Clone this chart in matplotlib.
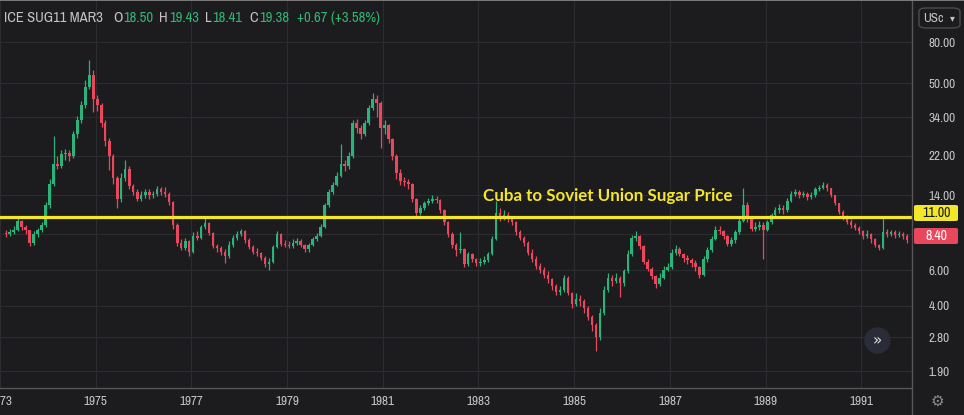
import numpy as np
import pandas as pd
import matplotlib
matplotlib.use("Agg")
import matplotlib.pyplot as plt
import matplotlib.dates as mdates
from matplotlib.patches import FancyBboxPatch
from matplotlib.lines import Line2D
from matplotlib import font_manager as fm
from datetime import datetime

# ---------------- data (monthly OHLC) ----------------
first_open = 9.1
close = [
    # 1973 (Feb-Dec)
    9.0, 9.2, 9.5, 10.5, 9.8, 9.4, 8.2, 9.0, 9.4, 10.0, 12.5,
    # 1974
    16, 20, 19.6, 22.5, 22.8, 22, 28, 33, 39, 48, 55, 42,
    # 1975
    39, 32, 26, 22, 17, 13.5, 17, 19, 15.5, 14.5, 13.5, 14,
    # 1976
    14.5, 14, 14.2, 15, 14.5, 14.2, 13, 10, 8.2, 7.7, 8.3, 7.4,
    # 1977
    8.8, 8.6, 9.8, 10.2, 9.1, 7.9, 7.7, 7.4, 7.0, 8.0, 8.6, 9.0,
    # 1978
    9.3, 8.4, 7.8, 7.4, 7.3, 6.9, 6.4, 6.6, 7.8, 9.0, 8.1, 8.0,
    # 1979
    7.9, 8.2, 8.3, 8.0, 7.6, 8.0, 8.5, 8.8, 9.8, 12.5, 14.5, 15.8,
    # 1980
    17.5, 20, 19.5, 22, 32, 30, 28, 32, 38, 42, 40, 30,
    # 1981
    31, 26.5, 22, 18, 16.5, 16.3, 16, 13.5, 11.5, 12.2, 12.8, 13.2,
    # 1982
    13.5, 13.3, 11.8, 10.3, 9.0, 8.0, 7.5, 7.6, 6.4, 7.2, 6.8, 6.5,
    # 1983
    6.6, 6.7, 7.2, 8.5, 11.5, 11.0, 11.2, 10.8, 10.4, 9.2, 8.6, 8.2,
    # 1984
    7.3, 6.8, 6.3, 6.0, 5.7, 5.4, 5.0, 4.7, 4.8, 5.5, 4.6, 4.1,
    # 1985
    4.3, 4.2, 3.9, 3.5, 3.2, 2.8, 3.7, 4.8, 5.5, 5.3, 5.5, 5.2,
    # 1986
    5.9, 7.2, 8.6, 8.8, 7.9, 6.6, 6.1, 5.6, 5.1, 5.5, 6.0, 6.2,
    # 1987
    7.3, 7.6, 7.2, 6.9, 6.7, 6.5, 6.2, 5.7, 6.8, 7.5, 8.5, 9.5,
    # 1988
    9.3, 8.8, 8.1, 8.4, 9.2, 10.5, 12.5, 10.8, 9.6, 9.8, 10.0, 9.5,
    # 1989
    10.3, 11.2, 11.8, 12.2, 11.8, 13.2, 14.2, 14.5, 14.0, 14.2, 13.8, 14.0,
    # 1990
    15.0, 15.3, 15.8, 15.2, 14.0, 12.8, 11.6, 10.9, 10.4, 10.0, 9.7, 9.3,
    # 1991
    8.8, 9.0, 8.5, 8.0, 7.7, 9.2, 9.0, 9.2, 8.9, 9.0, 8.8, 8.4,
]
high = [
    9.5, 9.6, 9.9, 11.0, 10.6, 10.0, 9.5, 9.3, 9.7, 10.4, 13.0,
    16.8, 27.5, 22, 23.5, 23.8, 23.5, 29, 34.5, 41, 52, 65, 58,
    44, 40, 33, 27, 22.5, 17.5, 18, 21, 19.5, 16, 15, 14.8,
    15, 15, 14.8, 15.5, 15.4, 15.4, 14.5, 13.2, 10.2, 8.5, 8.6, 8.4,
    9.2, 9.3, 10.0, 10.8, 10.3, 9.2, 8.1, 7.9, 7.6, 8.3, 8.9, 9.3,
    9.6, 9.4, 8.6, 8.0, 7.7, 7.4, 7.0, 6.9, 8.0, 9.3, 9.1, 8.4,
    8.3, 8.5, 8.6, 8.5, 8.1, 8.2, 8.7, 9.1, 10.1, 12.9, 15, 16.3,
    18.2, 25, 21, 23, 33, 33.5, 31, 33, 39, 45, 44, 41,
    33, 31.5, 27, 22.5, 19, 17.2, 16.8, 16.2, 13.6, 12.6, 13.2, 13.6,
    14, 13.9, 13.4, 12, 10.5, 9.2, 8.2, 9.2, 7.7, 7.4, 7.3, 6.9,
    6.9, 7.0, 7.4, 8.8, 13.2, 12.2, 11.8, 11.6, 11.0, 10.5, 9.4, 8.8,
    8.3, 7.6, 7.0, 6.5, 6.2, 5.9, 5.5, 5.1, 5.0, 5.7, 5.6, 4.7,
    4.6, 4.5, 4.3, 4.0, 3.6, 3.3, 3.9, 5.0, 5.8, 5.7, 5.8, 5.6,
    6.1, 7.5, 8.9, 9.3, 8.9, 8.0, 6.8, 6.2, 5.7, 5.8, 6.3, 6.5,
    7.6, 8.0, 7.8, 7.3, 7.1, 6.9, 6.7, 6.3, 7.0, 7.8, 8.8, 9.9,
    9.9, 9.5, 8.9, 8.7, 9.5, 11.0, 15.3, 13.0, 11.0, 10.3, 10.5, 10.4,
    10.6, 11.5, 12.3, 12.7, 12.5, 13.6, 14.7, 15.0, 14.9, 14.7, 14.5, 14.6,
    15.4, 15.8, 16.4, 16.2, 15.3, 14.1, 12.9, 11.8, 11.2, 10.7, 10.2, 9.9,
    9.5, 9.4, 9.1, 8.6, 8.1, 11.0, 9.6, 9.5, 9.4, 9.3, 9.2, 9.0,
]
low = [
    8.7, 8.8, 9.0, 9.3, 9.4, 9.0, 7.9, 8.0, 8.7, 9.2, 9.8,
    12.2, 15.6, 18.8, 19.2, 21.0, 20.8, 21.5, 27, 32, 38, 47, 36,
    36.5, 30.5, 24.5, 18.6, 16, 12.2, 13, 16.5, 15, 14, 13.1, 13.2,
    13.6, 13.5, 13.6, 13.9, 14, 13.7, 12.5, 9.6, 7.9, 7.5, 7.5, 7.0,
    7.3, 8.4, 8.5, 9.6, 8.9, 7.7, 7.4, 7.1, 6.5, 6.9, 7.8, 8.4,
    8.8, 8.2, 7.6, 7.2, 7.0, 6.7, 6.2, 6.0, 6.5, 7.7, 7.9, 7.8,
    7.7, 7.7, 8.0, 7.8, 7.4, 7.4, 7.9, 8.3, 8.7, 9.7, 12.3, 14.2,
    15.5, 17.2, 18.5, 19, 21.5, 28.5, 26.5, 27.5, 31, 37, 34, 24,
    28, 25.5, 21, 16.8, 15.8, 15.5, 15, 13, 10.9, 11.2, 11.9, 12.5,
    12.9, 12.9, 11.5, 10, 8.7, 7.7, 7.0, 7.3, 6.2, 6.3, 6.6, 6.3,
    6.3, 6.4, 6.6, 7.1, 8.4, 10.5, 10.6, 10.4, 10.0, 8.9, 8.4, 7.9,
    7.1, 6.6, 6.1, 5.8, 5.5, 5.2, 4.8, 4.5, 4.5, 4.7, 4.5, 3.9,
    4.0, 4.0, 3.7, 3.4, 3.0, 2.4, 2.7, 3.6, 4.7, 5.0, 5.2, 4.4,
    5.0, 5.8, 7.0, 8.3, 7.6, 6.4, 5.9, 5.4, 4.9, 5.0, 5.4, 5.9,
    6.1, 7.1, 7.0, 6.6, 6.4, 6.2, 5.9, 5.5, 5.6, 6.6, 7.4, 8.4,
    9.0, 8.5, 7.9, 7.9, 8.2, 9.0, 10.3, 10.3, 9.3, 9.3, 9.5, 6.8,
    9.3, 10.1, 11.0, 11.5, 11.4, 11.6, 13.0, 13.9, 13.6, 13.7, 13.3, 13.5,
    13.8, 14.7, 15.0, 14.8, 13.7, 12.5, 11.3, 10.6, 10.1, 9.7, 9.4, 9.0,
    8.5, 8.6, 8.2, 7.8, 7.5, 7.6, 8.7, 8.8, 8.6, 8.7, 8.5, 8.2,
]
level_line = 11.00
last_price = 8.40
level_label = "Cuba to Soviet Union Sugar Price"
y_ticks = [1.9, 2.8, 4.0, 6.0, 9.0, 14.0, 22.0, 34.0, 50.0, 80.0]
x_tick_years = [1973, 1975, 1977, 1979, 1981, 1983, 1985, 1987, 1989, 1991]
header_parts = [("ICE SUG11 MAR3", "L", 10), ("O", "L", 1), ("18.50", "G", 6), ("H", "L", 1),
                ("19.43", "G", 6), ("L", "L", 1), ("18.41", "G", 7), ("C", "L", 1),
                ("19.38", "G", 8), ("+0.67 (+3.58%)", "G", 0)]

# ---------------- style ----------------
BG = "#1c1c1f"
GRID = "#2b2b30"
SEP = "#55555a"
UP = "#2bb37a"
DN = "#e9475c"
YEL = "#f4e62a"
TXT = "#c3c3c6"
GRN = "#33b473"

# pick a narrow sans font if one is installed
NARROW = "Liberation Sans"
for f in fm.fontManager.ttflist:
    n = f.name
    if ("Narrow" in n or "Condensed" in n) and "Mono" not in n and "Serif" not in n:
        NARROW = n
        break

W, H = 964, 415
fig = plt.figure(figsize=(W / 100, H / 100), dpi=100, facecolor=BG)
def fx(px): return px / W
def fy(py): return 1 - py / H

AX_R, AX_B = 912, 388
ax = fig.add_axes([0, fy(AX_B), fx(AX_R), AX_B / H])
ax.set_facecolor(BG)
ax.set_yscale("log")
ax.set_ylim(1.57, 129)
ax.set_xlim(mdates.date2num(datetime(1973, 2, 9)), mdates.date2num(datetime(1992, 1, 23)))

dates = pd.date_range("1973-02-01", periods=len(close), freq="MS") + pd.Timedelta(days=14)
xd = mdates.date2num(dates.to_pydatetime())
c = np.array(close, float)
o = np.array([first_open] + close[:-1], float)
h = np.maximum(np.array(high, float), np.maximum(o, c))
l = np.minimum(np.array(low, float), np.minimum(o, c))
up = c >= o

for m, col in ((up, UP), (~up, DN)):
    ax.vlines(xd[m], l[m], h[m], color=col, lw=0.9, zorder=2)
    ax.bar(xd[m], np.abs(c - o)[m], bottom=np.minimum(o, c)[m], width=19,
           color=col, linewidth=0, zorder=3)

ax.axhline(level_line, color=YEL, lw=2.3, zorder=5)

# grid / ticks
ax.set_yticks(y_ticks)
ax.yaxis.set_minor_locator(matplotlib.ticker.NullLocator())
ax.set_yticklabels([f"{v:.2f}" for v in y_ticks])
ax.yaxis.tick_right()
xt = [mdates.date2num(datetime(y, 1, 1)) for y in x_tick_years]
ax.set_xticks(xt)
ax.set_xticklabels([str(y) for y in x_tick_years])
ax.tick_params(axis="y", length=0, pad=12, labelcolor=TXT, labelsize=9.5)
ax.tick_params(axis="x", length=0, pad=6, labelcolor=TXT, labelsize=9.5)
for lab in ax.get_xticklabels() + ax.get_yticklabels():
    lab.set_fontfamily(NARROW)
ax.grid(True, color=GRID, lw=0.9, zorder=0)
ax.set_axisbelow(True)
for s in ax.spines.values():
    s.set_visible(False)

# separators
fig.add_artist(Line2D([fx(AX_R), fx(AX_R)], [0, 1], color=SEP, lw=1))
fig.add_artist(Line2D([0, fx(AX_R)], [fy(AX_B), fy(AX_B)], color=SEP, lw=1))

# level annotation
fig.text(fx(608), fy(196), level_label, ha="center", va="center", color=YEL,
         fontsize=12.2, fontweight="bold", family="Lato")

# price labels on right axis
def price_box(py, txt, fc, tc):
    fig.add_artist(FancyBboxPatch((fx(914), fy(py + 8)), fx(958) - fx(914), 16 / H,
                                  boxstyle="round,pad=0,rounding_size=0.003",
                                  transform=fig.transFigure, fc=fc, ec="none", zorder=10))
    fig.text(fx(936), fy(py), txt, ha="center", va="center", color=tc, fontsize=10,
             family=NARROW, zorder=11)

price_box(213, f"{level_line:.2f}", YEL, "#1a1a1a")
price_box(236, f"{last_price:.2f}", DN, "#ffffff")

# header laid out left to right
renderer = fig.canvas.get_renderer()
x = 4
for t, kind, gap in header_parts:
    tx = fig.text(fx(x), fy(18), t, ha="left", va="center",
                  color=(TXT if kind == "L" else GRN), fontsize=10.5, family=NARROW,
                  fontweight=("bold" if kind == "L" else "normal"))
    x += tx.get_window_extent(renderer).width + gap

# currency box
fig.add_artist(FancyBboxPatch((fx(919), fy(28)), fx(960) - fx(919), 20 / H,
                              boxstyle="round,pad=0,rounding_size=0.008",
                              transform=fig.transFigure, fc=BG, ec="#4a4a50", lw=1))
fig.text(fx(923), fy(18), "USc", ha="left", va="center", color=TXT, fontsize=9.5, family=NARROW)
fig.text(fx(950), fy(18), "▾", ha="left", va="center", color=TXT, fontsize=7)

# scroll button
ax.plot([877 / AX_R], [1 - 340 / AX_B], marker="o", ms=18, mfc="#2a2d38", mec="#2a2d38",
        transform=ax.transAxes, clip_on=False, zorder=6)
ax.text(877 / AX_R, 1 - 341 / AX_B, "»", transform=ax.transAxes, ha="center", va="center",
        color="#e0e0e0", fontsize=11, zorder=7)

# gear icon
fig.text(fx(937), fy(401), "⚙", ha="center", va="center", color="#8a8a8e", fontsize=11)

# outer frame line at top
fig.add_artist(Line2D([0, 1], [fy(0.5), fy(0.5)], color="#8c8c8c", lw=1.2))

fig.savefig("out.png", dpi=100, facecolor=BG)
